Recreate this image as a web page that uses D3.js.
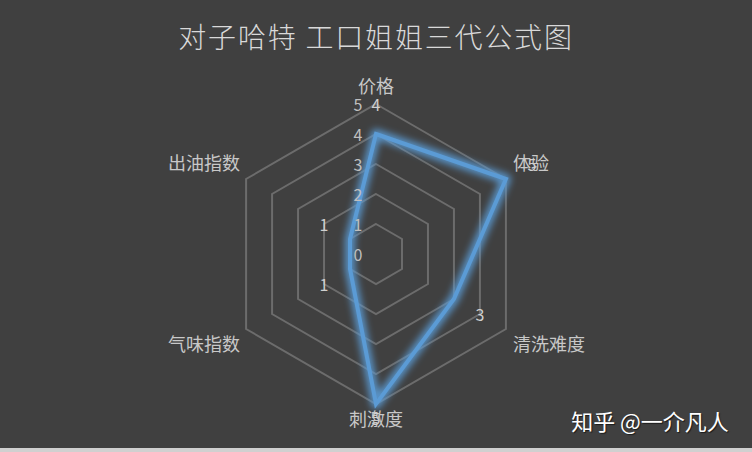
<!DOCTYPE html>
<html><head><meta charset="utf-8">
<script src="https://cdn.jsdelivr.net/npm/d3@7/dist/d3.min.js"></script>
<style>html,body{margin:0;padding:0;background:#404040;overflow:hidden}svg{display:block}</style>
</head><body>
<script>
const title = "对子哈特 工口姐姐三代公式图";
const axesNames = ["价格", "体验", "清洗难度", "刺激度", "气味指数", "出油指数"];
const values = [4, 5, 3, 5, 1, 1];
const tickValues = [0, 1, 2, 3, 4, 5];
const watermark = "知乎 @一介凡人";

const W = 752, H = 452;
const cx = 376, cy = 254;
const font = "'Noto Sans CJK SC', 'Microsoft YaHei', sans-serif";

const svg = d3.select("body").append("svg").attr("width", W).attr("height", H);
svg.append("rect").attr("width", W).attr("height", H).attr("fill", "#d0d0d0");
svg.append("rect").attr("width", W).attr("height", 448).attr("fill", "#404040");

const defs = svg.append("defs");
const f = defs.append("filter").attr("id", "glow").attr("x", "-20%").attr("y", "-20%").attr("width", "140%").attr("height", "140%");
f.append("feGaussianBlur").attr("stdDeviation", 3.5);

const r = d3.scaleLinear().domain([0, 5]).range([0, 150]);
const angle = d3.scaleLinear().domain([0, axesNames.length]).range([0, 2 * Math.PI]);
const pt = (i, rad) => [cx + rad * Math.sin(angle(i)), cy - rad * Math.cos(angle(i))];

const g = svg.append("g").attr("transform", `translate(${cx},${cy})`);
const radial = d3.lineRadial().curve(d3.curveLinearClosed);

// grid rings
g.selectAll(".ring").data(tickValues.filter(t => t > 0)).enter().append("path")
  .attr("d", t => radial(axesNames.map((_, i) => [angle(i), r(t)])))
  .attr("fill", "none").attr("stroke", "#6c6c6c").attr("stroke-width", 2);

// series glow + line
const seriesPts = values.map((v, i) => [angle(i), r(v)]);
g.append("path").attr("d", radial(seriesPts)).attr("fill", "none")
  .attr("stroke", "#5b9bd5").attr("stroke-opacity", 0.9).attr("stroke-width", 10)
  .attr("stroke-linejoin", "round").attr("filter", "url(#glow)");
g.append("path").attr("d", radial(seriesPts)).attr("fill", "none")
  .attr("stroke", "#5b9bd5").attr("stroke-width", 4).attr("stroke-linejoin", "miter");

// tick labels
svg.selectAll(".tick").data(tickValues).enter().append("text")
  .attr("x", cx - 18).attr("y", t => cy - r(t))
  .attr("text-anchor", "middle").attr("dominant-baseline", "central")
  .attr("font-family", font).attr("font-size", 16).attr("fill", "#bfbfbf")
  .text(t => t);

// axis labels
const maxR = r(d3.max(tickValues));
axesNames.forEach((name, i) => {
  const [x, y] = pt(i, maxR);
  const s = Math.sin(angle(i)), c = Math.cos(angle(i));
  let anchor = "middle", dx = 0, dy = 0;
  if (Math.abs(s) < 1e-6) { dy = c > 0 ? -19 : 14; }
  else { anchor = s > 0 ? "start" : "end"; dx = s > 0 ? 7 : -6; dy = c > 0 ? -17 : 14; }
  svg.append("text").attr("x", x + dx).attr("y", y + dy)
    .attr("text-anchor", anchor).attr("dominant-baseline", "central")
    .attr("font-family", font).attr("font-size", 18).attr("fill", "#c8c8c8")
    .text(name);
});

// data labels
values.forEach((v, i) => {
  let [x, y] = pt(i, r(v + 1));
  y = Math.min(y, cy + maxR + 14);
  svg.append("text").attr("x", x).attr("y", y)
    .attr("text-anchor", "middle").attr("dominant-baseline", "central")
    .attr("font-family", font).attr("font-size", 16).attr("fill", "#d0d0d0")
    .text(v);
});

// title
svg.append("text").attr("x", W / 2).attr("y", 36)
  .attr("text-anchor", "middle").attr("dominant-baseline", "central")
  .attr("font-family", font).attr("font-size", 28).attr("letter-spacing", 1.8)
  .attr("font-weight", 300).attr("fill", "#d9d9d9").text(title);

// watermark
svg.append("text").attr("x", 650).attr("y", 420)
  .attr("text-anchor", "middle").attr("dominant-baseline", "central")
  .attr("font-family", font).attr("font-size", 22).attr("fill", "#ffffff")
  .style("text-shadow", "1px 1px 1px rgba(0,0,0,0.6)")
  .text(watermark);
</script>
</body></html>
